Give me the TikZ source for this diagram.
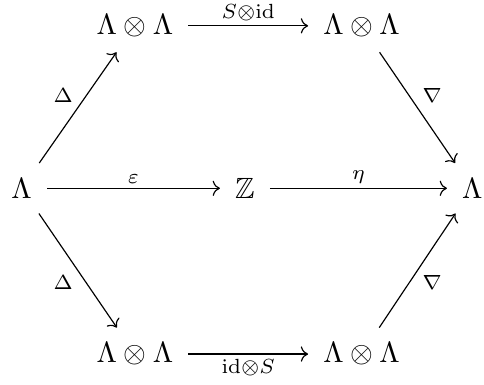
\documentclass[tikz,border=0pt]{standalone}
\usepackage{amssymb}
\usetikzlibrary{arrows.meta}

\begin{document}
\begin{tikzpicture}[>={To},
        obj/.style={inner sep=5pt},
        map/.style={->, line width=0.4pt},
        lbl/.style={inner sep=1.5pt}]
    \useasboundingbox (0,0) rectangle (5.81,-4.62);
    \node[obj] (l)  at (0.26,-2.26) {$\Lambda$};
    \node[obj] (tl) at (1.62,-0.31) {$\Lambda\otimes\Lambda$};
    \node[obj] (tr) at (4.34,-0.31) {$\Lambda\otimes\Lambda$};
    \node[obj] (z)  at (2.94,-2.26) {$\mathbb{Z}$};
    \node[obj] (r)  at (5.67,-2.26) {$\Lambda$};
    \node[obj] (bl) at (1.62,-4.25) {$\Lambda\otimes\Lambda$};
    \node[obj] (br) at (4.34,-4.25) {$\Lambda\otimes\Lambda$};
    \draw[map] (tl) -- node[lbl, above]{$\scriptstyle S\otimes\mathrm{id}$} (tr);
    \draw[map] (bl) -- node[lbl, below]{$\scriptstyle \mathrm{id}\otimes S$} (br);
    \draw[map] (l)  -- node[lbl, above]{$\scriptstyle\varepsilon$} (z);
    \draw[map] (z)  -- node[lbl, above]{$\scriptstyle\eta$} (r);
    \draw[map] (l)  -- node[lbl, above left]{$\scriptstyle\Delta$} (tl);
    \draw[map] (l)  -- node[lbl, below left]{$\scriptstyle\Delta$} (bl);
    \draw[map] (tr) -- node[lbl, above right]{$\scriptstyle\nabla$} (r);
    \draw[map] (br) -- node[lbl, below right]{$\scriptstyle\nabla$} (r);
\end{tikzpicture}
\end{document}
